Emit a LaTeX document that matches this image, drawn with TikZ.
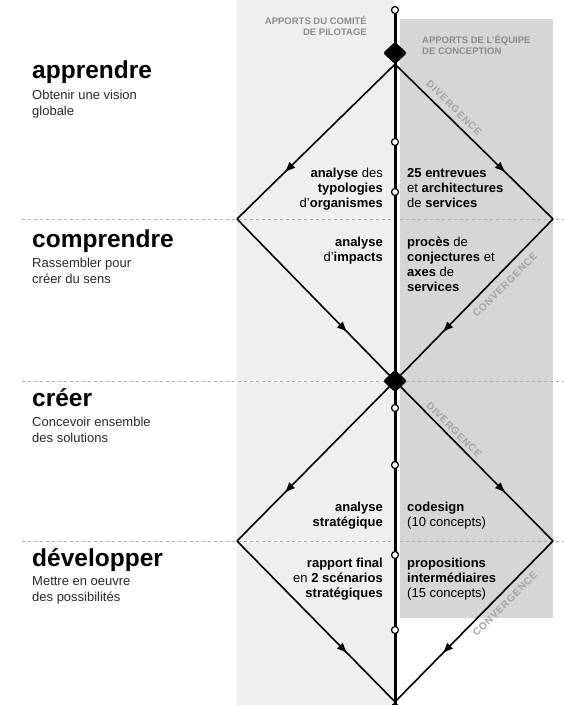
\documentclass[tikz,border=0pt]{standalone}
\usepackage{fontspec}
\setmainfont{Liberation Sans}
\newfontfamily\spacedfont[LetterSpace=8]{Liberation Sans}
\usetikzlibrary{shapes.geometric,arrows.meta,decorations.markings}
\definecolor{lightpanel}{HTML}{EFEFEF}
\definecolor{darkpanel}{HTML}{D6D6D6}
\definecolor{dashgray}{HTML}{B0B0B0}
\definecolor{headgray}{HTML}{8C8C8C}
\definecolor{diaggray}{HTML}{A4A4A4}
\definecolor{subgray}{HTML}{2A2A2A}
\newcommand{\bw}[1]{\textbf{#1}}
\begin{document}
\begin{tikzpicture}[x=1pt,y=-1pt,
  phase/.style={inner sep=0pt, font=\fontsize{24.5}{28}\selectfont\bfseries, text=black},
  phasesub/.style={inner sep=0pt, align=left, font=\fontsize{13}{16}\selectfont, text=subgray},
  lab/.style={inner sep=0pt, font=\fontsize{13}{15}\selectfont, text=black},
  hdr/.style={inner sep=0pt, font=\fontsize{9.5}{11}\selectfont\bfseries, text=headgray},
  diag/.style={inner sep=0pt, font=\fontsize{10}{12}\selectfont\spacedfont\bfseries, text=diaggray},
  sepline/.style={dashgray, line width=1pt, dash pattern=on 2.5pt off 3.5pt},
  spine/.style={black, line width=3pt},
  flow/.style={black, line width=1.6pt},
  arrowmid/.style={postaction={decorate}, decoration={markings, mark=at position 0.7 with {\arrow{Latex[length=11pt,width=8.5pt]}}}},
  blackdiam/.style={diamond, fill=black, inner sep=0pt, minimum width=24pt, minimum height=22pt, rounded corners=2.5pt},
  knot/.style={circle, draw=black, fill=white, line width=1.2pt, inner sep=0pt, minimum size=7pt}
]
\useasboundingbox (0,0) rectangle (564,705);
\fill[white] (0,0) rectangle (564,705);
% panels
\fill[lightpanel] (237,0) rectangle (395,705);
\fill[darkpanel] (400,19) rectangle (553,618);
% separators
\coordinate (s1l) at (22,219);  \coordinate (s1r) at (564,219);
\coordinate (s2l) at (22,381);  \coordinate (s2r) at (564,381);
\coordinate (s3l) at (22,541);  \coordinate (s3r) at (564,541);
\draw[sepline] (s1l) -- (s1r);
\draw[sepline] (s2l) -- (s2r);
\draw[sepline] (s3l) -- (s3r);
% diamonds and corners
\node[blackdiam] (d1) at (395,53) {};
\node[blackdiam] (d2) at (395,381) {};
\node[blackdiam] (d3) at (395,713) {};
\coordinate (top) at (395,10);
\coordinate (a1) at (237,219);
\coordinate (b1) at (553,219);
\coordinate (a2) at (237,541);
\coordinate (b2) at (553,541);
% spine
\draw[spine] (top) -- (d3.center);
% flows
\draw[flow, arrowmid] (d1.south) -- (a1);
\draw[flow, arrowmid] (d1.south) -- (b1);
\draw[flow, arrowmid] (a1) -- (d2.center);
\draw[flow, arrowmid] (b1) -- (d2.center);
\draw[flow, arrowmid] (d2.center) -- (a2);
\draw[flow, arrowmid] (d2.center) -- (b2);
\draw[flow, arrowmid] (a2) -- (d3.north);
\draw[flow, arrowmid] (b2) -- (d3.north);
% redraw diamonds on top
\node[blackdiam] (d1b) at (d1) {};
\node[blackdiam] (d2b) at (d2) {};
\node[blackdiam] (d3b) at (d3) {};
% knots
\node[knot] (k0) at (top) {};
\node[knot] (k1) at (395,142) {};
\node[knot] (k2) at (395,192) {};
\node[knot] (k3) at (395,408) {};
\node[knot] (k4) at (395,465) {};
\node[knot] (k5) at (395,555) {};
\node[knot] (k6) at (395,630) {};
% headers (base = last line)
\node[hdr, anchor=base east, align=right] (hc) at (367,35.5) {APPORTS DU COMITÉ\\DE PILOTAGE};
\node[hdr, anchor=base west, align=left] (he) at (422,54.5) {APPORTS DE L’ÉQUIPE\\DE CONCEPTION};
% phases
\node[phase, anchor=base west] (p1) at (32,78) {apprendre};
\node[phasesub, anchor=base west] (p1s) at (32,115) {Obtenir une vision\\globale};
\node[phase, anchor=base west] (p2) at (32,247) {comprendre};
\node[phasesub, anchor=base west] (p2s) at (32,283) {Rassembler pour\\créer du sens};
\node[phase, anchor=base west] (p3) at (32,406) {créer};
\node[phasesub, anchor=base west] (p3s) at (32,442) {Concevoir ensemble\\des solutions};
\node[phase, anchor=base west] (p4) at (32,566) {développer};
\node[phasesub, anchor=base west] (p4s) at (32,601) {Mettre en oeuvre\\des possibilités};
% labels (base = last line)
\node[lab, anchor=base east, align=right] (l1) at (383,207) {\bw{analyse} des\\\bw{typologies}\\d’\bw{organismes}};
\node[lab, anchor=base west, align=left] (r1) at (407,207) {\bw{25 entrevues}\\et \bw{architectures}\\de \bw{services}};
\node[lab, anchor=base east, align=right] (l2) at (383,261) {\bw{analyse}\\d’\bw{impacts}};
\node[lab, anchor=base west, align=left] (r2) at (407,291) {\bw{procès} de\\\bw{conjectures} et\\\bw{axes} de\\\bw{services}};
\node[lab, anchor=base east, align=right] (l3) at (383,526) {\bw{analyse}\\\bw{stratégique}};
\node[lab, anchor=base west, align=left] (r3) at (407,526) {\bw{codesign}\\(10 concepts)};
\node[lab, anchor=base east, align=right] (l4) at (383,597) {\bw{rapport final}\\en \bw{2 scénarios}\\\bw{stratégiques}};
\node[lab, anchor=base west, align=left] (r4) at (407,597) {\bw{propositions}\\\bw{intermédiaires}\\(15 concepts)};
% diagonal labels
\node[diag, rotate=-45] (dv1) at (454,108) {DIVERGENCE};
\node[diag, rotate=45] (cv1) at (505,285) {CONVERGENCE};
\node[diag, rotate=-45] (dv2) at (454,430) {DIVERGENCE};
\node[diag, rotate=45] (cv2) at (505,604) {CONVERGENCE};
\end{tikzpicture}
\end{document}
